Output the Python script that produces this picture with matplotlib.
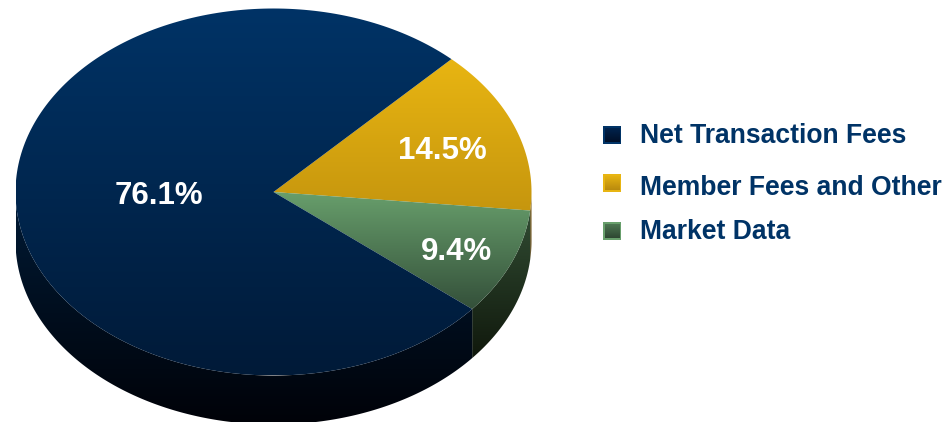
import numpy as np
import matplotlib
matplotlib.use("Agg")
import matplotlib.pyplot as plt
from matplotlib.colors import to_rgb
from matplotlib.patches import Polygon, Rectangle

plt.rcParams['font.family'] = ['Liberation Sans', 'DejaVu Sans']

# shares of revenue, clockwise from the first slice
labels = ["Member Fees and Other", "Market Data", "Net Transaction Fees"]
shares = [14.5, 9.4, 76.1]
start_angle = 46.4

# top gradient colour, bottom gradient colour, same for the side wall
face_colors = [("#E8B512", "#C6960E"), ("#689F6C", "#34503A"), ("#003366", "#001A38")]
wall_colors = [("#7A5A12", "#5A4010"), ("#314C33", "#10180C"), ("#001B36", "#000208")]
legend_inner = [("#E8B512", "#B98A0E"), ("#4F7A54", "#2E4632"), ("#002550", "#000F28")]

legend_order = [2, 0, 1]
legend_y = [135, 183, 231]
legend_text_y = [136, 188, 232]

cx, cy = 273.5, 192.0
rx, ry = 258.0, 183.5
depth = 49.0

fig = plt.figure(figsize=(9.45, 4.22), dpi=100)
ax = fig.add_axes([0, 0, 1, 1])
ax.set_xlim(0, 945)
ax.set_ylim(422, 0)
ax.axis("off")


def arc(a0, a1, dy=0.0):
    t = np.radians(np.linspace(a0, a1, 240))
    return np.column_stack([cx + rx*np.cos(t), cy + dy - ry*np.sin(t)])


def fill_gradient(points, top, bottom, zorder=1):
    # vertical gradient clipped to a polygon
    y0, y1 = points[:, 1].min(), points[:, 1].max()
    x0, x1 = points[:, 0].min(), points[:, 0].max()
    f = np.linspace(0, 1, 256)[:, None, None]
    img = (1-f)*np.array(to_rgb(top))[None, None, :] + f*np.array(to_rgb(bottom))[None, None, :]
    poly = Polygon(points, closed=True, transform=ax.transData, fc="none", ec="none")
    ax.add_patch(poly)
    im = ax.imshow(img, extent=[x0, x1, y1, y0], aspect="auto", interpolation="bilinear", zorder=zorder)
    im.set_clip_path(poly)


# slice boundaries in degrees, going clockwise
sweeps = np.array(shares) / sum(shares) * 360
ends = start_angle - np.cumsum(sweeps)
starts = ends + sweeps

# side walls first, only the part facing down is visible
for a0, a1, cols in zip(starts, ends, wall_colors):
    for lo, hi in [(-180, 0), (-540, -360)]:
        s = min(a0, hi)
        e = max(a1, lo)
        if s > e:
            pts = np.vstack([arc(s, e), arc(e, s, depth)])
            fill_gradient(pts, cols[0], cols[1])

# top faces
for a0, a1, cols in zip(starts, ends, face_colors):
    pts = np.vstack([[cx, cy], arc(a0, a1)])
    fill_gradient(pts, cols[0], cols[1], zorder=2)

ax.text(159, 196, "76.1%", color="white", fontsize=22.5, fontweight="bold", ha="center", va="center", zorder=5)
ax.text(442.5, 151, "14.5%", color="white", fontsize=22.5, fontweight="bold", ha="center", va="center", zorder=5)
ax.text(457, 252, "9.4%", color="white", fontsize=22.5, fontweight="bold", ha="center", va="center", zorder=5)

# legend
size = 18
for i, y, ty in zip(legend_order, legend_y, legend_text_y):
    ax.add_patch(Rectangle((603, y-size/2), size, size, fc=face_colors[i][0], ec="none", zorder=3))
    pts = np.array([[604.5, y-size/2+1.5], [619.5, y-size/2+1.5], [619.5, y+size/2-1.5], [604.5, y+size/2-1.5]])
    fill_gradient(pts, legend_inner[i][0], legend_inner[i][1], zorder=4)
    ax.text(640, ty, labels[i], color="#003366", fontsize=19.1, fontweight="bold", ha="left", va="center", zorder=5)

ax.set_xlim(0, 945)
ax.set_ylim(422, 0)
fig.savefig("out.png", dpi=100)
